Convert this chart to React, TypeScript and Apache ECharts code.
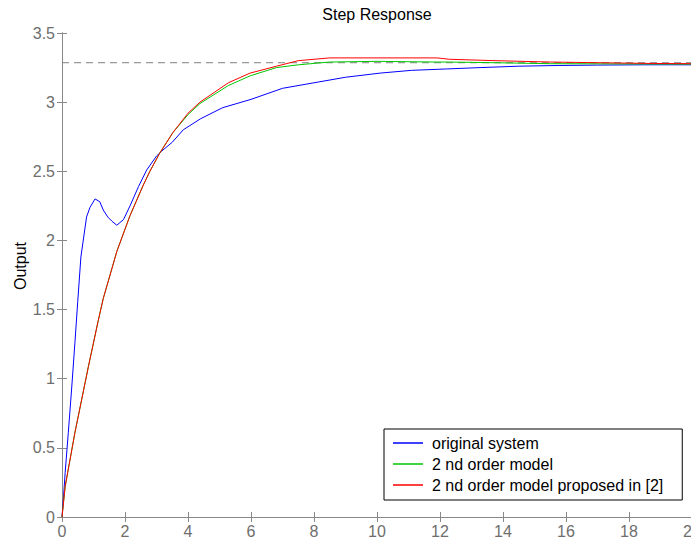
import React, { useEffect, useRef } from "react";
import * as echarts from "echarts";

// Original system step response
const tOriginal = [0, 0.05, 0.1, 0.2, 0.31, 0.41, 0.5, 0.6, 0.73, 0.78, 0.89, 1.05, 1.2, 1.31, 1.45, 1.58, 1.74, 1.95, 2.16, 2.43, 2.69, 3.0, 3.16, 3.5, 3.85, 4.4, 5.1, 6.0, 7.0, 8.0, 9.0, 10.1, 11.1, 12.2, 13.3, 14.5, 15.75, 17, 18.5, 20];
const yOriginal = [0, 0.15, 0.32, 0.61, 0.94, 1.26, 1.56, 1.88, 2.09, 2.17, 2.24, 2.3, 2.28, 2.22, 2.17, 2.14, 2.11, 2.15, 2.25, 2.39, 2.51, 2.61, 2.645, 2.71, 2.8, 2.88, 2.96, 3.02, 3.1, 3.14, 3.18, 3.21, 3.23, 3.24, 3.25, 3.26, 3.265, 3.268, 3.27, 3.27];

// 2nd order models
const tModel = [0, 0.1, 0.41, 0.84, 1.15, 1.31, 1.74, 2.16, 2.58, 2.79, 3.1, 3.52, 4.0, 4.38, 5.28, 5.97, 6.81, 7.5, 8.5, 10, 11.9, 12.3, 13.75, 15.5, 18.6, 20];
const ySecondOrder = [0, 0.22, 0.61, 1.09, 1.42, 1.58, 1.92, 2.18, 2.4, 2.5, 2.63, 2.78, 2.91, 2.99, 3.12, 3.19, 3.25, 3.27, 3.29, 3.295, 3.29, 3.29, 3.285, 3.278, 3.276, 3.275];
const yProposed = [0, 0.22, 0.61, 1.09, 1.42, 1.58, 1.92, 2.18, 2.4, 2.5, 2.63, 2.78, 2.92, 3.0, 3.14, 3.21, 3.26, 3.3, 3.32, 3.32, 3.32, 3.31, 3.3, 3.29, 3.28, 3.278];

const steadyState = 3.285;
const tRange = [0, 20];

const seriesNames = ["original system", "2 nd order model", "2 nd order model proposed in [2]"];
const seriesColors = ["#0000ff", "#00c800", "#ff0000"];

const FONT = "'Liberation Sans', Arial, Helvetica, sans-serif";
const AXIS_COLOR = "#888888";
const LABEL_COLOR = "#6e6e6e";

const zip = (xs: number[], ys: number[]) => xs.map((x, i) => [x, ys[i]]);

export default function App() {
  const ref = useRef<HTMLDivElement>(null);
  useEffect(() => {
    if (!ref.current) return;
    const chart = echarts.init(ref.current, null, { renderer: "svg" });
    const axisCommon = {
      axisLine: { show: true, lineStyle: { color: AXIS_COLOR, width: 1 } },
      axisTick: { show: true, inside: true, length: 5, lineStyle: { color: AXIS_COLOR } },
      splitLine: { show: false },
    };
    chart.setOption({
      animation: false,
      backgroundColor: "#ffffff",
      textStyle: { fontFamily: FONT },
      grid: { left: 62, top: 33, width: 630, height: 484, containLabel: false, outerBoundsMode: "none" },
      xAxis: [
        {
          type: "value", position: "bottom", min: 0, max: 20, interval: 2,
          ...axisCommon,
          axisLabel: { show: true, margin: 6, fontSize: 16, color: LABEL_COLOR, fontFamily: FONT, showMaxLabel: true, showMinLabel: true, hideOverlap: false },
        },
        {
          type: "value", position: "top", min: 0, max: 20, interval: 2,
          ...axisCommon,
          axisLabel: { show: false },
        },
      ],
      yAxis: [
        {
          type: "value", position: "left", min: 0, max: 3.5, interval: 0.5,
          ...axisCommon,
          axisLabel: { show: true, margin: 7, fontSize: 16, color: LABEL_COLOR, fontFamily: FONT },
        },
        {
          type: "value", position: "right", min: 0, max: 3.5, interval: 0.5,
          ...axisCommon,
          axisLabel: { show: false },
        },
      ],
      legend: {
        data: seriesNames.map((n) => ({ name: n, icon: "rect" })),
        orient: "vertical",
        left: 384,
        top: 429,
        padding: [6, 19, 7, 9],
        itemGap: 5,
        itemWidth: 30,
        itemHeight: 1.5,
        selectedMode: false,
        backgroundColor: "#ffffff",
        borderColor: "#000000",
        borderWidth: 1,
        borderRadius: 0,
        textStyle: { fontSize: 16, color: "#000000", fontFamily: FONT, padding: [0, 0, 0, 4] },
      },
      graphic: [
        {
          type: "text", x: 377, y: 14,
          style: { text: "Step Response", font: `16px ${FONT}`, fill: "#000000", textAlign: "center", textVerticalAlign: "middle" },
        },
        {
          type: "text", x: 20, y: 266, rotation: Math.PI / 2,
          style: { text: "Output", font: `16px ${FONT}`, fill: "#000000", textAlign: "center", textVerticalAlign: "middle" },
        },
      ],
      series: [
        {
          name: "steady state", type: "line", symbol: "none", silent: true,
          data: [[tRange[0], steadyState], [tRange[1], steadyState]],
          lineStyle: { color: "#808080", width: 1, type: [7, 5] },
          z: 1,
        },
        {
          name: seriesNames[0], type: "line", symbol: "none",
          data: zip(tOriginal, yOriginal),
          lineStyle: { color: seriesColors[0], width: 1 }, itemStyle: { color: seriesColors[0] },
          z: 2,
        },
        {
          name: seriesNames[1], type: "line", symbol: "none",
          data: zip(tModel, ySecondOrder),
          lineStyle: { color: seriesColors[1], width: 1 }, itemStyle: { color: seriesColors[1] },
          z: 3,
        },
        {
          name: seriesNames[2], type: "line", symbol: "none",
          data: zip(tModel, yProposed),
          lineStyle: { color: seriesColors[2], width: 1 }, itemStyle: { color: seriesColors[2] },
          z: 4,
        },
      ],
    });
    return () => chart.dispose();
  }, []);
  return <div ref={ref} style={{ position: "absolute", left: 0, top: 0, width: 691, height: 542 }} />;
}
